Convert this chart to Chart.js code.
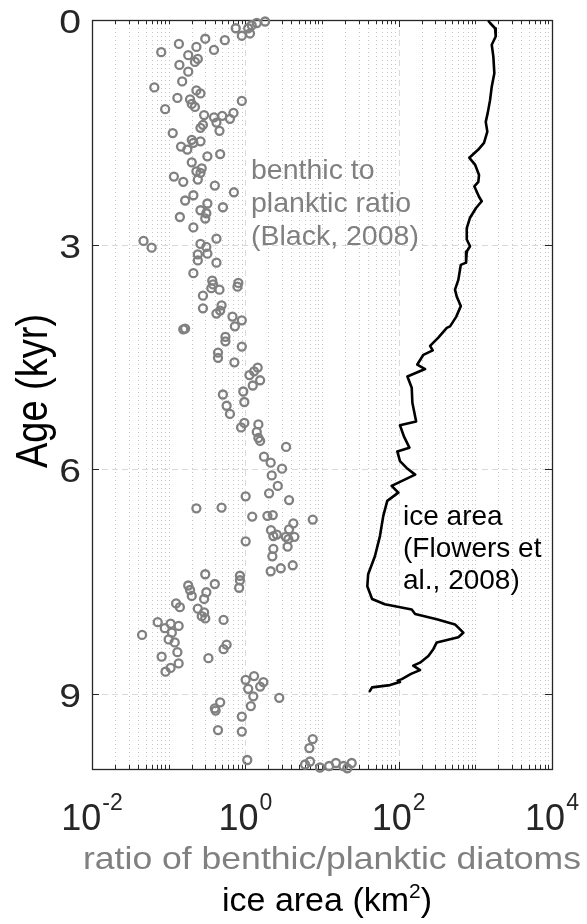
<!DOCTYPE html>
<html>
<head>
<meta charset="utf-8">
<title>Age vs ice area and diatom ratio</title>
<script src="https://cdn.jsdelivr.net/npm/chart.js@4.4.1/dist/chart.umd.min.js"></script>
<style>
  html, body { margin: 0; padding: 0; background: #fff; }
  #wrap { width: 587px; height: 924px; }
</style>
</head>
<body>
<div id="wrap"><canvas id="myChart" width="587" height="924"></canvas></div>
<script>
// benthic/planktic diatom ratio (Black, 2008): age in kyr, ratio
const ratioAge = [
    0.02, 0.04, 0.07, 0.11, 0.11, 0.18, 0.21, 0.25, 0.27, 0.32, 0.36, 0.40, 0.43, 0.47, 0.52, 0.56,
    0.60, 0.69, 0.82, 0.90, 0.94, 0.98, 1.04, 1.06, 1.08, 1.12, 1.16, 1.19, 1.24, 1.27, 1.28, 1.30,
    1.32, 1.37, 1.40, 1.44, 1.48, 1.51, 1.60, 1.62, 1.64, 1.69, 1.73, 1.79, 1.82, 1.90, 1.98, 2.02,
    2.04, 2.09, 2.13, 2.16, 2.21, 2.30, 2.34, 2.41, 2.45, 2.50, 2.54, 2.58, 2.63, 2.65, 2.77, 2.92,
    2.95, 2.99, 3.03, 3.04, 3.12, 3.13, 3.21, 3.24, 3.38, 3.48, 3.51, 3.53, 3.56, 3.58, 3.60, 3.68,
    3.81, 3.85, 3.88, 3.92, 3.96, 4.01, 4.09, 4.12, 4.13, 4.23, 4.29, 4.36, 4.44, 4.51, 4.57, 4.64,
    4.69, 4.74, 4.81, 4.88, 4.96, 5.00, 5.10, 5.15, 5.26, 5.38, 5.40, 5.44, 5.50, 5.58, 5.62, 5.70,
    5.83, 5.91, 5.99, 6.08, 6.22, 6.32, 6.36, 6.41, 6.51, 6.52, 6.61, 6.62, 6.63, 6.67, 6.72, 6.80,
    6.81, 6.87, 6.89, 6.90, 6.90, 6.93, 6.96, 7.03, 7.06, 7.16, 7.28, 7.32, 7.36, 7.40, 7.42, 7.48,
    7.53, 7.55, 7.58, 7.61, 7.64, 7.69, 7.73, 7.79, 7.84, 7.86, 7.91, 7.96, 7.99, 8.01, 8.04, 8.06,
    8.09, 8.12, 8.18, 8.21, 8.27, 8.31, 8.34, 8.40, 8.44, 8.50, 8.52, 8.59, 8.65, 8.70, 8.76, 8.81,
    8.84, 8.90, 8.93, 9.03, 9.05, 9.11, 9.16, 9.19, 9.22, 9.30, 9.48, 9.50, 9.60, 9.72, 9.88, 9.90,
    9.92, 9.92, 9.94, 9.96, 9.96, 9.98, 9.99
];
const ratioValue = [
    1.81, 1.41, 1.21, 1.09, 0.75, 1.15, 0.90, 0.30, 0.54, 0.136, 0.23, 0.39, 0.080, 0.18, 0.24, 0.22,
    0.138, 0.18, 0.15, 0.065, 0.23, 0.26, 0.13, 0.19, 0.90, 0.20, 0.22, 0.090, 0.70, 0.29, 0.50, 0.39,
    0.63, 0.42, 0.28, 0.26, 0.46, 0.113, 0.20, 0.26, 0.21, 0.145, 0.175, 0.47, 0.32, 0.20, 0.27, 0.23,
    0.26, 0.117, 0.24, 0.155, 0.40, 0.71, 0.21, 0.164, 0.32, 0.51, 0.26, 0.31, 0.14, 0.30, 0.21, 0.42,
    0.047, 0.26, 0.31, 0.060, 0.32, 0.24, 0.24, 0.42, 0.21, 0.37, 0.81, 0.38, 0.79, 0.36, 0.46, 0.28,
    0.49, 0.28, 0.47, 0.42, 0.68, 0.90, 0.73, 0.164, 0.155, 0.55, 0.55, 0.90, 0.44, 0.44, 0.72, 1.45,
    1.30, 1.13, 1.56, 1.25, 0.94, 0.51, 0.97, 0.57, 0.63, 0.97, 1.48, 0.88, 1.41, 1.48, 1.56, 3.40,
    1.75, 2.14, 3.01, 2.21, 2.65, 2.04, 1.01, 3.72, 0.49, 0.23, 2.28, 1.94, 1.23, 7.57, 4.23, 3.72,
    2.16, 2.57, 2.32, 3.37, 4.36, 3.64, 1.01, 3.56, 2.32, 2.25, 4.15, 2.90, 2.14, 0.30, 0.85, 0.85,
    0.40, 0.18, 0.83, 0.19, 0.31, 0.20, 0.29, 0.125, 0.14, 0.24, 0.29, 0.27, 0.30, 0.52, 0.072, 0.106,
    0.135, 0.089, 0.11, 0.045, 0.10, 0.12, 0.57, 0.52, 0.13, 0.081, 0.33, 0.135, 0.106, 0.091, 1.30, 1.01,
    1.72, 1.56, 1.09, 1.27, 2.77, 0.47, 1.18, 0.40, 0.41, 0.90, 0.44, 0.90, 7.57, 6.84, 1.06, 6.98,
    15.2, 24.4, 6.01, 12.4, 19.0, 9.42, 21.4
];

// ice area (Flowers et al., 2008): age in kyr, area in km2
const iceAge = [
    0.02, 0.04, 0.11, 0.22, 0.33, 0.49, 0.71, 0.89, 1.07, 1.24, 1.36, 1.49, 1.64, 1.73, 1.84, 1.93,
    2.07, 2.16, 2.22, 2.36, 2.42, 2.51, 2.64, 2.78, 2.93, 3.02, 3.09, 3.24, 3.27, 3.47, 3.60, 3.69,
    3.82, 3.96, 4.09, 4.11, 4.24, 4.35, 4.41, 4.47, 4.60, 4.66, 4.76, 4.91, 5.11, 5.36, 5.41, 5.56,
    5.71, 5.76, 5.89, 5.98, 6.07, 6.22, 6.31, 6.42, 6.62, 6.89, 7.16, 7.40, 7.56, 7.73, 7.80, 7.87,
    7.93, 8.00, 8.07, 8.18, 8.24, 8.31, 8.40, 8.49, 8.58, 8.62, 8.68, 8.73, 8.80, 8.82, 8.84, 8.88,
    8.91, 8.96
];
const iceArea = [
    1500, 1556, 1807, 1845, 1637, 1718, 1770, 1637, 1556, 1452, 1367, 1434, 1298, 1094, 836, 991,
    1117, 1094, 970, 1117, 1212, 1021, 853, 773, 773, 853, 773, 757, 646, 600, 543, 571,
    646, 565, 468, 424, 329, 257, 278, 210, 175, 221, 130, 148, 151, 169, 104, 117,
    138, 96, 104, 127, 164, 81, 99, 71, 63, 57, 49, 40, 39, 45, 66, 148,
    164, 314, 543, 697, 600, 314, 283, 244, 190, 155, 190, 145, 110, 97, 104, 77,
    45, 42
];

const xTickExps = [-2, 0, 2, 4];
const yTicks = [0, 3, 6, 9];
const yLabel = 'Age (kyr)';
const xLabelRatio = 'ratio of benthic/planktic diatoms';
const xLabelIce = ['ice area (km', '2', ')'];   // text, superscript, text
const ratioNote = ['benthic to', 'planktic ratio', '(Black, 2008)'];
const iceNote = ['ice area', '(Flowers et', 'al., 2008)'];

const FONT = '"Liberation Sans", Arial, Helvetica, sans-serif';
const AXIS = '#262626';
const GRAY = '#808080';

// minor positions: 2..9 in every decade, plus the unlabelled odd decades
function minorValues() {
    let v = [];
    for (let d = xTickExps[0]; d < xTickExps[xTickExps.length - 1]; d++) {
        for (let m = 1; m <= 9; m++) {
            if (m === 1 && d % 2 === 0) continue;
            v.push(m * Math.pow(10, d));
        }
    }
    return v;
}

function seg(ctx, x1, y1, x2, y2) {
    ctx.beginPath();
    ctx.moveTo(x1, y1);
    ctx.lineTo(x2, y2);
    ctx.stroke();
}

function label(ctx, s, x, y, size, color, align, sx) {
    ctx.save();
    ctx.font = size + 'px ' + FONT;
    ctx.fillStyle = color;
    ctx.textAlign = align || 'left';
    ctx.textBaseline = 'alphabetic';
    ctx.translate(x, y);
    ctx.scale(sx || 1, 1);
    ctx.fillText(s, 0, 0);
    ctx.restore();
}

function textWidth(ctx, s, size) {
    ctx.font = size + 'px ' + FONT;
    return ctx.measureText(s).width;
}

const frame = {
    id: 'frame',
    beforeDatasetsDraw(chart) {
        const {ctx, chartArea: a, scales: {x, y}} = chart;
        const minor = minorValues();
        const px = v => Math.round(x.getPixelForValue(v)) + 0.5;
        const py = v => Math.round(y.getPixelForValue(v)) + 0.5;
        ctx.save();
        ctx.lineWidth = 1;

        // dotted minor grid
        ctx.strokeStyle = '#c6c6c6';
        ctx.setLineDash([1, 3]);
        minor.forEach(v => seg(ctx, px(v), a.top, px(v), a.bottom));

        // dashed major grid
        ctx.strokeStyle = '#d9d9d9';
        ctx.setLineDash([6, 4]);
        xTickExps.forEach(e => {
            const p = px(Math.pow(10, e));
            if (p > a.left + 2 && p < a.right - 2) seg(ctx, p, a.top, p, a.bottom);
        });
        yTicks.forEach(t => {
            const p = py(t);
            if (p > a.top + 2 && p < a.bottom - 2) seg(ctx, a.left, p, a.right, p);
        });
        ctx.setLineDash([]);

        // box
        ctx.strokeStyle = AXIS;
        ctx.lineWidth = 1.3;
        ctx.strokeRect(Math.round(a.left) + 0.5, Math.round(a.top) + 0.5,
            Math.round(a.right - a.left), Math.round(a.bottom - a.top));

        // inward ticks
        ctx.lineWidth = 1;
        minor.forEach(v => {
            seg(ctx, px(v), a.bottom, px(v), a.bottom - 4);
            seg(ctx, px(v), a.top, px(v), a.top + 4);
        });
        xTickExps.forEach(e => {
            const p = px(Math.pow(10, e));
            seg(ctx, p, a.bottom, p, a.bottom - 7);
            seg(ctx, p, a.top, p, a.top + 7);
        });
        yTicks.forEach(t => {
            seg(ctx, a.left, py(t), a.left + 7, py(t));
            seg(ctx, a.right, py(t), a.right - 7, py(t));
        });
        ctx.restore();
    },
    afterDraw(chart) {
        const {ctx, chartArea: a, scales: {x, y}} = chart;

        // x tick labels as 10^n
        xTickExps.forEach(e => {
            const p = x.getPixelForValue(Math.pow(10, e));
            const w1 = textWidth(ctx, '10', 36);
            const w2 = textWidth(ctx, String(e), 23);
            const left = p - (w1 + 1 + w2) / 2;
            label(ctx, '10', left, 830, 36, AXIS);
            label(ctx, String(e), left + w1 + 1, 810, 23, AXIS);
        });

        // y tick labels
        yTicks.forEach(t => {
            label(ctx, String(t), a.left - 11, y.getPixelForValue(t) + 13, 34, AXIS, 'right', 1.15);
        });

        // y axis title
        ctx.save();
        ctx.translate(47, 391);
        ctx.rotate(-Math.PI / 2);
        ctx.scale(1, 1.15);
        ctx.font = '38px ' + FONT;
        ctx.fillStyle = '#000';
        ctx.textAlign = 'center';
        ctx.fillText(yLabel, 0, 0);
        ctx.restore();

        // x axis titles, one per series
        const sx = 498 / textWidth(ctx, xLabelRatio, 32);
        label(ctx, xLabelRatio, 332, 869, 32, GRAY, 'center', sx);

        const wa = textWidth(ctx, xLabelIce[0], 34);
        const wb = textWidth(ctx, xLabelIce[1], 21);
        const wc = textWidth(ctx, xLabelIce[2], 34);
        let lx = 327 - (wa + wb + wc) / 2;
        label(ctx, xLabelIce[0], lx, 911, 34, '#000');
        label(ctx, xLabelIce[1], lx + wa, 898, 21, '#000');
        label(ctx, xLabelIce[2], lx + wa + wb, 911, 34, '#000');

        // series notes inside the axes
        ratioNote.forEach((s, i) => label(ctx, s, 251, 179 + i * 33, 28.5, GRAY));
        iceNote.forEach((s, i) => label(ctx, s, 403, 525 + i * 32, 28, '#000'));
    }
};

let ctx = document.getElementById('myChart').getContext('2d');
let chart = new Chart(ctx, {
    type: 'scatter',
    data: {
        datasets: [{
            label: 'ice area',
            data: iceAge.map((t, i) => ({x: iceArea[i], y: t})),
            showLine: true,
            borderColor: '#000',
            borderWidth: 2.6,
            borderJoinStyle: 'round',
            borderCapStyle: 'round',
            pointRadius: 0,
            tension: 0
        }, {
            label: 'benthic to planktic ratio',
            data: ratioAge.map((t, i) => ({x: ratioValue[i], y: t})),
            showLine: false,
            pointStyle: 'circle',
            pointRadius: 4,
            borderWidth: 2.3,
            pointBorderWidth: 2.3,
            borderColor: GRAY,
            pointBorderColor: GRAY,
            pointBackgroundColor: 'rgba(0,0,0,0)',
            clip: false
        }]
    },
    options: {
        responsive: false,
        animation: false,
        events: [],
        layout: {padding: {left: 92, right: 35, top: 20, bottom: 155}},
        scales: {
            x: {type: 'logarithmic', min: 0.01, max: 10000, display: false},
            y: {type: 'linear', min: 0, max: 10, reverse: true, display: false}
        },
        plugins: {
            legend: {display: false},
            tooltip: {enabled: false}
        }
    },
    plugins: [frame]
});
</script>
</body>
</html>
